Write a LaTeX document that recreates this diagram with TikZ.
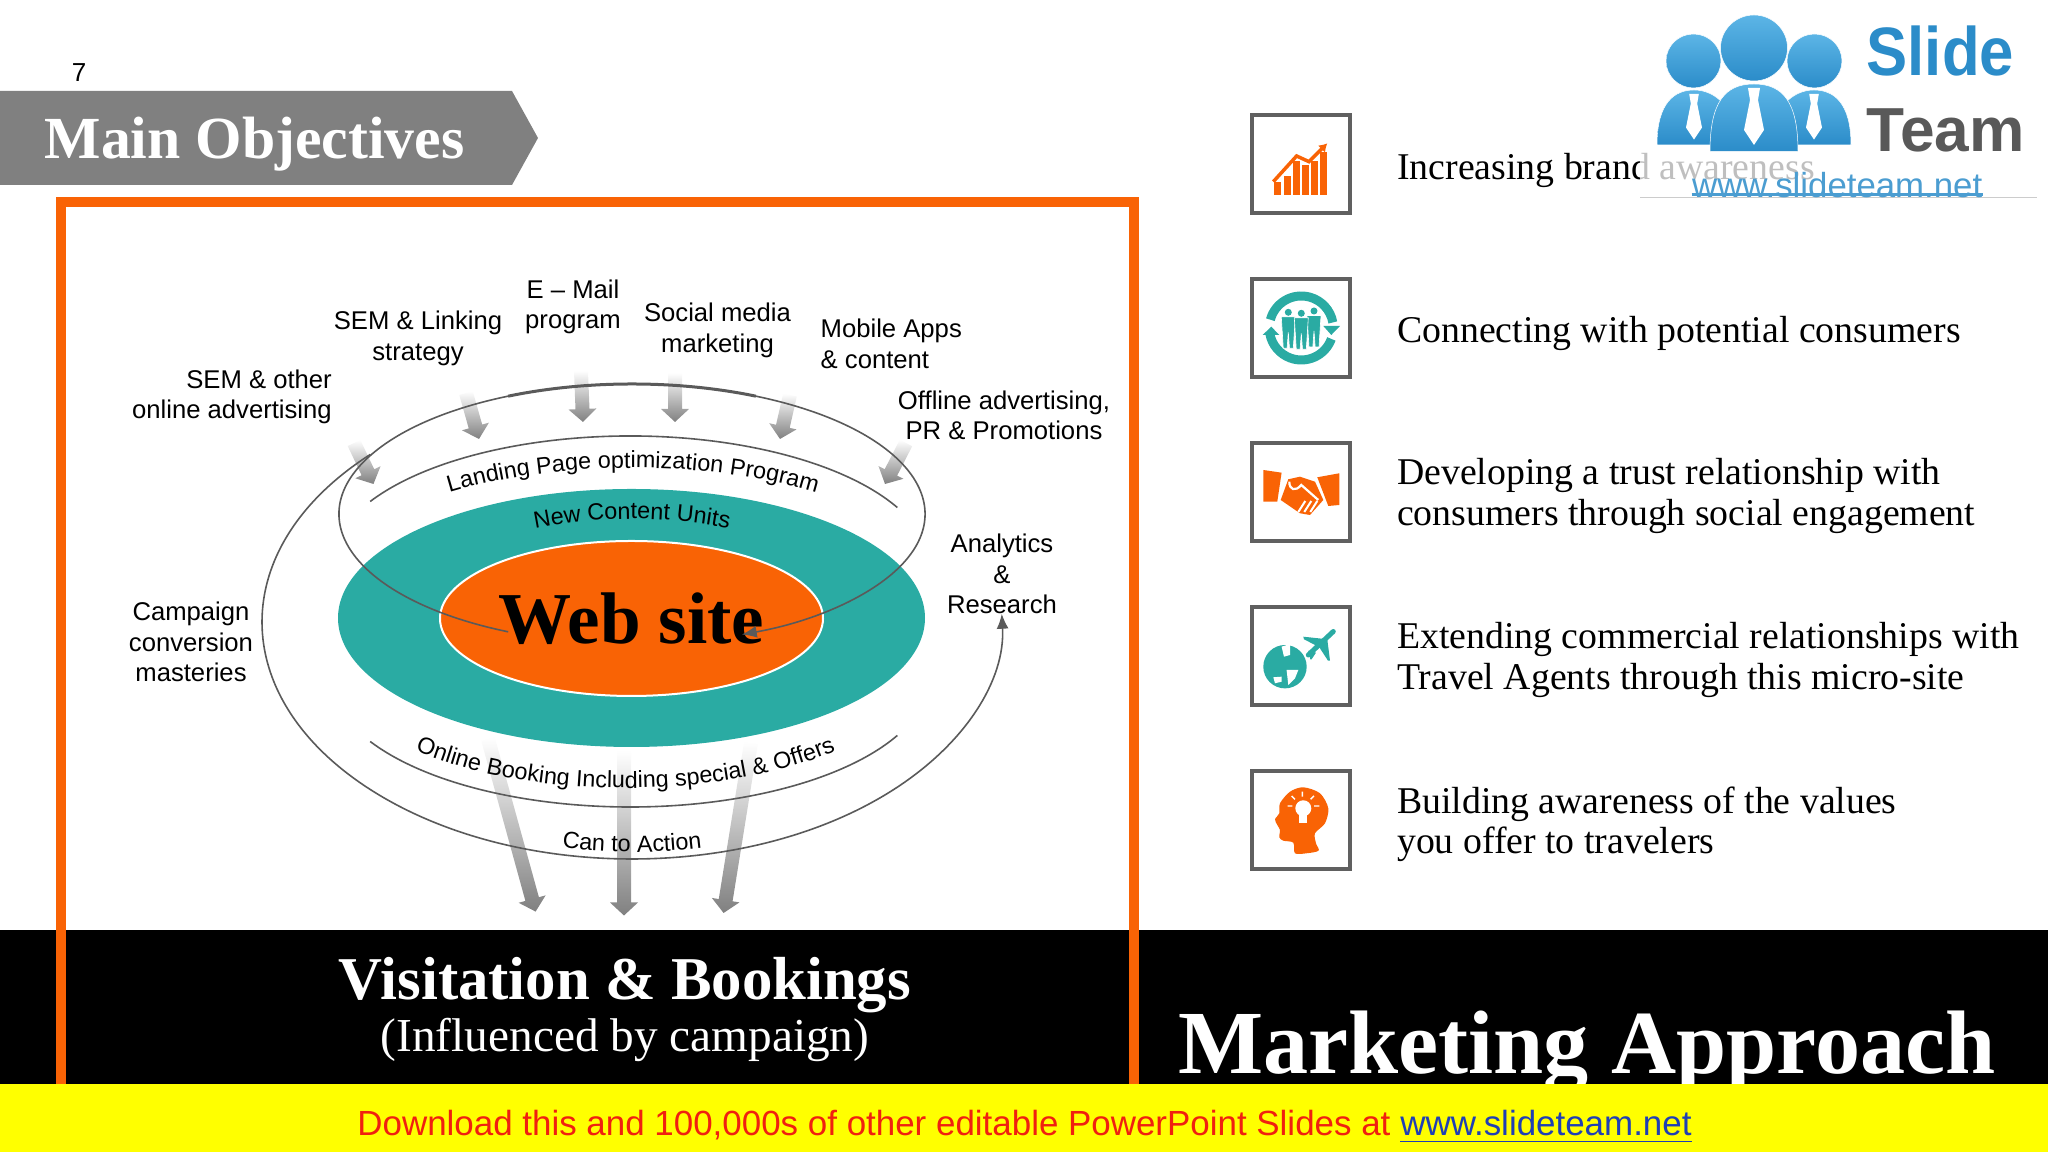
\documentclass[tikz,border=0pt]{standalone}
\usepackage{fontspec}
\setmainfont{Liberation Serif}
\setsansfont{Liberation Sans}
\usetikzlibrary{shapes.geometric,decorations.text,calc,arrows.meta,fadings}
\definecolor{flame}{HTML}{F96305}
\definecolor{lagoon}{HTML}{2AABA3}
\definecolor{slate}{HTML}{808080}
\definecolor{boxgray}{HTML}{606060}
\definecolor{arcgray}{HTML}{5A5A5A}
\definecolor{logolight}{HTML}{5CB5E6}
\definecolor{logodark}{HTML}{2B8CC9}
\definecolor{linkblue}{HTML}{1F3FB5}
\definecolor{stripyellow}{HTML}{FFFF00}
\definecolor{stripred}{HTML}{F02010}
\newcommand{\orbitfont}{\sffamily\fontsize{6.65}{8}\selectfont}
\tikzset{
    labeltext/.style={font=\sffamily\fontsize{7.3}{8.7}\selectfont, align=center, inner sep=0},
    sidetext/.style={font=\fontsize{10.75}{11.5}\selectfont, align=left, anchor=west, inner sep=0},
    iconbox/.style={draw=boxgray, line width=0.04cm, minimum size=0.98cm, inner sep=0},
    arcline/.style={draw=arcgray, line width=0.016cm},
    arcthick/.style={draw=arcgray, line width=0.03cm},
    fadearrow/.style={fill=slate, path fading=north},
    logoshade/.style={top color=logolight, bottom color=logodark, draw=white, line width=0.005cm},
    orbitlabel/.style={decorate, decoration={text along path, text align=center, text={#1}}}
}
\begin{document}
\begin{tikzpicture}
    \useasboundingbox (0,0) rectangle (20.48,11.52);

    % top left
    \node[font=\sffamily\fontsize{7.4}{9}\selectfont, inner sep=0] (pagenum) at (0.79,10.79) {7};
    \fill[slate] (0,10.61) -- (5.12,10.61) -- (5.38,10.14) -- (5.12,9.67) -- (0,9.67) -- cycle;
    \node[font=\bfseries\fontsize{17}{19}\selectfont, text=white, anchor=west, inner sep=0] (banner) at (0.44,10.08) {Main Objectives};

    % gray arrows
    \foreach \tx/\ty/\hx/\hy [count=\n] in {3.54/7.09/3.735/6.68, 4.66/7.59/4.79/7.13, 5.81/7.81/5.83/7.30,
        6.75/7.79/6.75/7.30, 7.90/7.57/7.80/7.13, 9.06/7.09/8.85/6.68,
        4.88/4.13/5.356/2.404, 6.24/4.01/6.24/2.365, 7.51/4.09/7.236/2.39}{
      \coordinate (tail\n) at (\tx,\ty);
      \coordinate (tip\n) at (\hx,\hy);
      \coordinate (neck\n) at ($(tip\n)!0.13cm!(tail\n)$);
      \fill[fadearrow] ($(tail\n)!0.07cm!90:(tip\n)$) -- ($(neck\n)!0.07cm!90:(tip\n)$) -- ($(neck\n)!0.14cm!90:(tip\n)$) -- (tip\n)
        -- ($(neck\n)!0.14cm!-90:(tip\n)$) -- ($(neck\n)!0.07cm!-90:(tip\n)$) -- ($(tail\n)!0.07cm!-90:(tip\n)$) -- cycle;
    }

    % ellipses
    \node[ellipse, fill=lagoon, minimum width=5.87cm, minimum height=2.58cm, inner sep=0] (outerspot) at (6.315,5.34) {};
    \node[ellipse, fill=flame, draw=white, line width=0.02cm, minimum width=3.83cm, minimum height=1.55cm, inner sep=0,
          font=\bfseries\fontsize{20.8}{22}\selectfont] (website) at (6.315,5.335) {Web site};

    % arcs
    \draw[arcline,-{Latex[length=0.15cm,width=0.12cm]}] ([shift={(245:2.93 and 1.30)}]6.32,6.38) arc[start angle=245,end angle=-68,x radius=2.93,y radius=1.30];
    \draw[arcthick] ([shift={(115:2.93 and 1.30)}]6.32,6.38) arc[start angle=115,end angle=65,x radius=2.93,y radius=1.30];
    \draw[arcline,-{Latex[length=0.15cm,width=0.12cm]}] ([shift={(135:3.70 and 2.37)}]6.32,5.30) arc[start angle=135,end angle=362,x radius=3.70,y radius=2.37];
    \draw[arcline] ([shift={(150:3.00 and 1.31)}]6.30,5.85) arc[start angle=150,end angle=27,x radius=3.00,y radius=1.31];
    \draw[arcline] ([shift={(210:3.00 and 1.31)}]6.30,4.76) arc[start angle=210,end angle=333,x radius=3.00,y radius=1.31];

    % texts on the arcs
    \path[orbitlabel={|\orbitfont|Landing Page optimization Program}] ([shift={(150:3.00 and 1.18)}]6.33,5.66) arc[start angle=150,end angle=30,x radius=3.00,y radius=1.18];
    \path[orbitlabel={|\orbitfont|New Content Units}] ([shift={(130:2.50 and 1.20)}]6.32,5.13) arc[start angle=130,end angle=50,x radius=2.50,y radius=1.20];
    \path[orbitlabel={|\orbitfont|Online Booking Including special {\&} Offers}] ([shift={(200:3.00 and 1.30)}]6.255,4.94) arc[start angle=200,end angle=340,x radius=3.00,y radius=1.30];
    \path[orbitlabel={|\orbitfont|Can to Action}] ([shift={(250:3.70 and 2.37)}]6.32,5.37) arc[start angle=250,end angle=290,x radius=3.70,y radius=2.37];

    % labels around the website
    \node[labeltext] (email) at (5.73,8.45) {E -- Mail\\program};
    \node[labeltext] (linking) at (4.18,8.135) {SEM \& Linking\\strategy};
    \node[labeltext] (social) at (7.175,8.215) {Social media\\marketing};
    \node[labeltext,anchor=west,align=left] (mobile) at (8.20,8.08) {Mobile Apps\\\& content};
    \node[labeltext] (offline) at (10.04,7.365) {Offline advertising,\\PR \& Promotions};
    \node[labeltext,anchor=east,align=right] (semother) at (3.325,7.55) {SEM \& other\\online advertising};
    \node[labeltext] (campaign) at (1.91,5.10) {Campaign\\conversion\\masteries};
    \node[labeltext] (analytics) at (10.02,5.78) {Analytics\\\&\\Research};

    % black band and frame
    \fill[black] (0,0.68) rectangle (20.48,2.22);
    \draw[flame, line width=0.10cm] (0.61,0.68) -- (0.61,9.50) -- (11.34,9.50) -- (11.34,0.68);
    \node[font=\bfseries\fontsize{17.3}{19}\selectfont, text=white, inner sep=0] (visits) at (6.25,1.665) {Visitation \& Bookings};
    \node[font=\fontsize{13.45}{16}\selectfont, text=white, inner sep=0] (influenced) at (6.25,1.12) {(Influenced by campaign)};
    \node[font=\bfseries\fontsize{25.65}{30}\selectfont, text=white, inner sep=0] (approach) at (15.87,1.00) {Marketing Approach};

    % yellow strip
    \fill[stripyellow] (0,0) rectangle (20.48,0.68);
    \node[font=\sffamily\fontsize{9.94}{12}\selectfont, text=stripred, inner sep=0] (download) at (10.245,0.25)
        {Download this and 100,000s of other editable PowerPoint Slides at \textcolor{linkblue}{\underline{www.slideteam.net}}};

    % objectives
    \node[sidetext] (brand) at (13.965,9.82) {Increasing brand awareness};
    \node[sidetext] (connect) at (13.965,8.19) {Connecting with potential consumers};
    \node[sidetext] (trust) at (13.965,6.56) {Developing a trust relationship with\\consumers through social engagement};
    \node[sidetext] (travel) at (13.965,4.92) {Extending commercial relationships with\\Travel Agents through this micro-site};
    \node[sidetext] (values) at (13.965,3.28) {Building awareness of the values\\you offer to travelers};

    \node[iconbox] (box1) at (13.013,9.88) {};
    \node[iconbox] (box2) at (13.013,8.24) {};
    \node[iconbox] (box3) at (13.013,6.60) {};
    \node[iconbox] (box4) at (13.013,4.96) {};
    \node[iconbox] (box5) at (13.013,3.32) {};

    % icon 1: bars
    \begin{scope}[shift={(box1.center)}]
      \foreach \bx/\btop in {-0.27/-0.18,-0.178/-0.125,-0.086/0.03,0.006/-0.01,0.098/0.03,0.19/0.12}
        \fill[flame] (\bx,-0.31) rectangle (\bx+0.07,\btop);
      \draw[flame,line width=0.035cm,-{Latex[length=0.08cm,width=0.1cm]}] (-0.28,-0.177) -- (-0.047,0.08) -- (0.077,0.023) -- (0.26,0.207);
    \end{scope}

    % icon 2: people and ring
    \begin{scope}[shift={(box2.center)},lagoon]
      \draw[line width=0.09cm] (165:0.32) arc[start angle=165,end angle=10,radius=0.32];
      \draw[line width=0.09cm] (-20:0.32) arc[start angle=-20,end angle=-170,radius=0.32];
      \fill (0.22,0.02) -- (0.387,0.02) -- (0.30,-0.07) -- cycle;
      \fill (-0.387,-0.07) -- (-0.22,-0.07) -- (-0.30,0.013) -- cycle;
      \foreach \px/\py in {-0.13/0.157,0.127/0.17,0/0.147}{
        \fill (\px,\py) circle (0.035);
        \fill[draw=white,line width=0.006cm] (\px-0.07,\py-0.045) -- (\px+0.07,\py-0.045) -- (\px+0.05,\py-0.36) -- (\px+0.012,\py-0.36) -- (\px,\py-0.2) -- (\px-0.012,\py-0.36) -- (\px-0.05,\py-0.36) -- cycle;
      }
    \end{scope}

    % icon 3: handshake
    \begin{scope}[shift={(box3.center)},flame]
      \fill (-0.38,0.22) -- (-0.197,0.193) -- (-0.24,-0.097) -- (-0.38,-0.097) -- cycle;
      \fill (0.16,0.147) -- (0.38,0.187) -- (0.38,-0.13) -- (0.27,-0.14) -- cycle;
      \fill (-0.13,0.127) -- (-0.013,0.153) -- (0.137,0.103) -- (0.22,-0.08) -- (0.087,-0.23) -- (-0.013,-0.213) -- (-0.206,-0.08) -- cycle;
      \draw[white,line width=0.022cm] (-0.12,0.103) .. controls (-0.12,0.02) and (-0.06,0) .. (0,0.07) -- (0.17,-0.08);
      \foreach \fx in {-0.03,0.03,0.09}
        \draw[white,line width=0.02cm] (\fx,-0.2) -- (\fx+0.07,-0.09);
    \end{scope}

    % icon 4: globe and plane
    \begin{scope}[shift={(box4.center)},lagoon]
      \fill (-0.163,-0.107) circle (0.217);
      \fill[white] (-0.197,0.093) -- (-0.113,0.12) -- (-0.113,0.01) -- (-0.173,-0.007) -- cycle;
      \fill[white] (-0.147,-0.14) -- (-0.03,-0.14) -- (-0.063,-0.223) -- (-0.13,-0.29) -- cycle;
      \fill[white] (-0.28,-0.213) -- (-0.197,-0.207) -- (-0.197,-0.257) -- (-0.263,-0.273) -- cycle;
      \draw[line width=0.05cm,line cap=round] (0.32,0.245) -- (0.07,0.01);
      \fill (0.26,0.167) -- (0.02,0.193) -- (0.027,0.167) -- (0.17,0.093) -- cycle;
      \fill (0.26,0.167) -- (0.287,-0.047) -- (0.267,-0.047) -- (0.18,0.087) -- cycle;
      \fill (0.07,0.053) -- (0.147,0.033) -- (0.103,-0.033) -- (0.09,-0.033) -- cycle;
    \end{scope}

    % icon 5: head with bulb
    \begin{scope}[shift={(box5.center)},flame]
      \fill plot[smooth cycle,tension=0.5] coordinates {(-0.263,0.007) (-0.22,0.067) (-0.213,0.167) (-0.113,0.283) (0.02,0.327) (0.187,0.267) (0.27,0.117) (0.237,-0.033) (0.137,-0.133) (0.147,-0.233) (0.173,-0.307) (0.053,-0.333) (-0.063,-0.333) (-0.08,-0.227) (-0.18,-0.207) (-0.22,-0.173) (-0.213,-0.1) (-0.24,-0.05)};
      \fill[white] (0.02,0.117) circle (0.08);
      \fill[white] (-0.02,0.06) rectangle (0.06,-0.027);
      \draw[white,line width=0.014cm] (0.01,0.283) -- (0.01,0.233) (-0.097,0.24) -- (-0.063,0.207) (0.127,0.24) -- (0.093,0.207) (-0.137,0.14) -- (-0.09,0.14) (0.127,0.14) -- (0.18,0.14);
    \end{scope}

    % logo
    \begin{scope}[xshift=-0.05cm]
    \fill[white,opacity=0.75] (16.45,9.55) rectangle (20.42,11.52);
    \draw[gray!40,line width=0.008cm] (16.45,9.55) -- (20.42,9.55);
    \shade[logoshade] (16.985,10.91) ellipse (0.275 and 0.27);
    \shade[logoshade] (18.195,10.91) ellipse (0.275 and 0.27);
    \shade[logoshade] (17.59,11.04) ellipse (0.335 and 0.33);
    \shade[logoshade] (16.62,10.07) .. controls (16.62,10.5) and (16.8,10.62) .. (16.99,10.62) .. controls (17.2,10.62) and (17.4,10.45) .. (17.45,10.07) -- cycle;
    \shade[logoshade] (18.56,10.07) .. controls (18.56,10.5) and (18.38,10.62) .. (18.19,10.62) .. controls (17.98,10.62) and (17.78,10.45) .. (17.73,10.07) -- cycle;
    \shade[logoshade] (17.15,10.005) .. controls (17.15,10.5) and (17.3,10.68) .. (17.59,10.68) .. controls (17.88,10.68) and (18.03,10.5) .. (18.03,10.005) -- cycle;
    \foreach \tiex/\tietop/\tiesize in {16.99/10.58/0.8,18.19/10.58/0.8,17.59/10.64/1}
      \fill[white] (\tiex-0.06*\tiesize,\tietop) -- (\tiex+0.06*\tiesize,\tietop) -- (\tiex+0.04*\tiesize,\tietop-0.12*\tiesize) -- (\tiex+0.1*\tiesize,\tietop-0.42*\tiesize)
        -- (\tiex,\tietop-0.57*\tiesize) -- (\tiex-0.1*\tiesize,\tietop-0.42*\tiesize) -- (\tiex-0.04*\tiesize,\tietop-0.12*\tiesize) -- cycle;
    \node[font=\sffamily\bfseries\fontsize{19.5}{20}\selectfont, text=logodark, anchor=base west, inner sep=0, xscale=0.9] (logoslide) at (18.71,10.76) {Slide};
    \node[font=\sffamily\bfseries\fontsize{17.7}{20}\selectfont, text=black!65, anchor=base west, inner sep=0] (logoteam) at (18.71,10.005) {Team};
    \node[font=\sffamily\fontsize{9.9}{12}\selectfont, text=logodark!85, anchor=base west, inner sep=0] (logourl) at (16.965,9.54) {www.slideteam.net};
    \draw[logodark!85,line width=0.03cm] (logourl.south west) ++(0,0.05) -- ++(2.915,0);
    \end{scope}
\end{tikzpicture}
\end{document}
